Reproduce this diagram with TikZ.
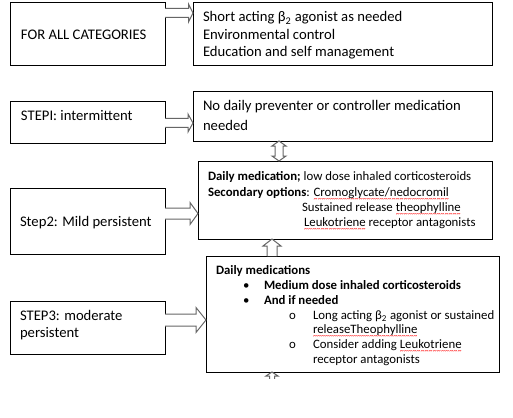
\documentclass[tikz,border=0pt]{standalone}
\usepackage{fontspec}
\setmainfont{Carlito}
\usetikzlibrary{calc}
\newsavebox\sqbox
\newcommand\redsq[1]{\sbox\sqbox{#1}\rlap{\smash{\textcolor{red}{\lower4.4pt\hbox to\wd\sqbox{\xleaders\hbox{\fontsize{6}{6}\selectfont\char"7E}\hfil}}}}\usebox\sqbox}
\def\pxu{0.75pt}
\tikzset{
  x=0.75pt, y=-0.75pt,
  box/.style={draw=black, line width=0.75pt, inner sep=0pt, outer sep=0pt},
  barrow/.style={draw=black!60, fill=white, line width=0.75pt, line join=miter},
  txt/.style={anchor=base west, inner sep=0pt, outer sep=0pt, font=\fontsize{11}{13}\selectfont},
  stxt/.style={anchor=base west, inner sep=0pt, outer sep=0pt, font=\fontsize{9.6}{11}\selectfont},
}
% box: name, x1, y1, x2, y2 (pixels)
\newcommand\mkbox[5]{\node[box, anchor=north west, minimum width={(#4-#2)*\pxu}, minimum height={(#5-#3)*\pxu}] (#1) at (#2,#3) {};}
% right block arrow: from, to, y, shaft half, head half, head length
\newcommand\rarr[6]{%
  \draw[barrow] let \p1=(#1), \p2=(#2) in
   (\x1,{-(#3-#4)*\pxu}) -- ({\x2-#6*\pxu},{-(#3-#4)*\pxu}) -- ({\x2-#6*\pxu},{-(#3-#5)*\pxu})
   -- (\x2,{-(#3)*\pxu}) -- ({\x2-#6*\pxu},{-(#3+#5)*\pxu}) -- ({\x2-#6*\pxu},{-(#3+#4)*\pxu})
   -- (\x1,{-(#3+#4)*\pxu});}
% up block arrow: tail point, tip point, x, shaft half, head half, head length
\newcommand\uarr[6]{%
  \draw[barrow] let \p1=(#1), \p2=(#2) in
   ({(#3-#4)*\pxu},\y1) -- ({(#3-#4)*\pxu},{\y2-#6*\pxu}) -- ({(#3-#5)*\pxu},{\y2-#6*\pxu})
   -- ({(#3)*\pxu},\y2) -- ({(#3+#5)*\pxu},{\y2-#6*\pxu}) -- ({(#3+#4)*\pxu},{\y2-#6*\pxu})
   -- ({(#3+#4)*\pxu},\y1);}
% double vertical block arrow: lower point, upper point, x, shaft half, head half, head length
\newcommand\darr[6]{%
  \draw[barrow] let \p1=(#1), \p2=(#2) in
   ({(#3)*\pxu},\y1) -- ({(#3-#5)*\pxu},{\y1+#6*\pxu}) -- ({(#3-#4)*\pxu},{\y1+#6*\pxu})
   -- ({(#3-#4)*\pxu},{\y2-#6*\pxu}) -- ({(#3-#5)*\pxu},{\y2-#6*\pxu}) -- ({(#3)*\pxu},\y2)
   -- ({(#3+#5)*\pxu},{\y2-#6*\pxu}) -- ({(#3+#4)*\pxu},{\y2-#6*\pxu})
   -- ({(#3+#4)*\pxu},{\y1+#6*\pxu}) -- ({(#3+#5)*\pxu},{\y1+#6*\pxu}) -- cycle;}
\begin{document}
\begin{tikzpicture}
\fill[white] (0,0) rectangle (513,417);
\useasboundingbox (0,0) rectangle (513,417);

% boxes
\mkbox{l1}{10}{3}{165}{66}
\mkbox{r1}{193}{3}{492}{66}
\mkbox{l2}{10}{102}{165}{143}
\mkbox{r2}{193}{92}{492}{141}
\mkbox{l3}{10}{188}{165}{254}
\mkbox{r3}{198}{161}{492}{239}
\mkbox{l4}{10}{301}{165}{354}
\mkbox{r4}{206}{256}{499}{372}

% arrows
\rarr{l1.east}{r1.west}{13}{4.5}{9}{4.5}
\rarr{l2.east}{r2.west}{123}{4.5}{9}{5}
\rarr{l3.east}{r3.west}{213.5}{5.5}{11}{8}
\rarr{l4.east}{r4.west}{320}{6}{12.5}{10}
\darr{r3.north}{r2.south}{279}{4}{7}{5}
\uarr{r4.north}{r3.south}{272}{5}{9}{7}
\coordinate (stub) at (272,400);
\begin{scope}
  \clip (0,0) rectangle (513,378);
  \uarr{stub}{r4.south}{272}{2.5}{6}{4}
\end{scope}

% left texts
\node[txt] (t1) at (21,40) {FOR ALL CATEGORIES};
\node[txt] (t2) at (21,121) {STEPI: intermittent};
\node[txt] (t3) at (20,226) {Step2: Mild persistent};
\node[txt] (t4a) at (20,320) {STEP3: moderate};
\node[txt] (t4b) at (20,337) {persistent};

% right box 1
\node[txt] (s1a) at (203,22) {Short acting β\textsubscript{2} agonist as needed};
\node[txt] (s1b) at (203,40) {Environmental control};
\node[txt] (s1c) at (203,57) {Education and self management};

% right box 2
\node[txt] (s2a) at (203,111) {No daily preventer or controller medication};
\node[txt] (s2b) at (203,130.5) {needed};

% right box 3
\node[stxt] (s3a) at (208,180) {\textbf{Daily medication;} low dose inhaled corticosteroids};
\node[stxt] (s3b) at (208,196) {\textbf{Secondary options}: \redsq{Cromoglycate/nedocromil}};
\node[stxt] (s3c) at (302,211) {Sustained release \redsq{theophylline}};
\node[stxt] (s3d) at (304,226) {\redsq{Leukotriene} receptor antagonists};

% right box 4
\node[stxt] (s4a) at (216,274) {\textbf{Daily medications}};
\node[stxt] (b1) at (243,289) {•};
\node[stxt] (s4b) at (264,289) {\textbf{Medium dose inhaled corticosteroids}};
\node[stxt] (b2) at (243,304) {•};
\node[stxt] (s4c) at (264,304) {\textbf{And if needed}};
\node[stxt] (o1) at (289,319) {o};
\node[stxt] (s4d) at (313,319) {Long acting β\textsubscript{2} agonist or sustained};
\node[stxt] (s4e) at (313,333) {\redsq{releaseTheophylline}};
\node[stxt] (o2) at (289,348) {o};
\node[stxt] (s4f) at (313,348) {Consider adding \redsq{Leukotriene}};
\node[stxt] (s4g) at (313,363) {receptor antagonists};
\end{tikzpicture}
\end{document}
